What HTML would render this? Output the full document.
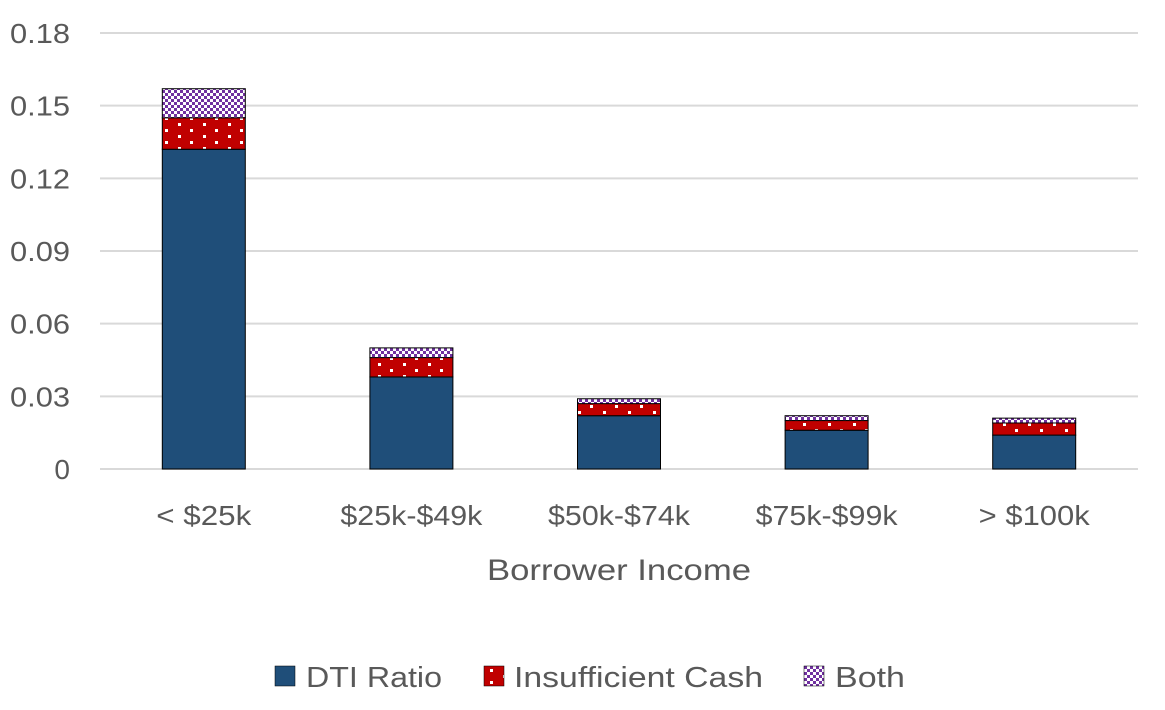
<!DOCTYPE html>
<html><head><meta charset="utf-8"><style>
body{margin:0;background:#fff;}
svg text{font-family:"Liberation Sans",sans-serif;fill:#595959;}
</style></head><body>
<svg id="chart" width="1165" height="705" viewBox="0 0 1165 705">
<defs>
<pattern id="dots" width="25" height="12" patternUnits="userSpaceOnUse">
<rect width="25" height="12" fill="#c00000"/>
<rect x="3" y="3" width="3" height="3" fill="#fff"/>
<rect x="15" y="9" width="3" height="3" fill="#fff"/>
</pattern>
<pattern id="check" width="6" height="6" patternUnits="userSpaceOnUse">
<rect width="6" height="6" fill="#fff"/>
<rect width="3" height="3" fill="#7030a0"/>
<rect x="3" y="3" width="3" height="3" fill="#7030a0"/>
</pattern>
</defs>
<g id="grid"></g><g id="bars"></g><g id="labels"></g>
<text x="487" y="580" font-size="30" textLength="264" lengthAdjust="spacingAndGlyphs">Borrower Income</text>
<g>
<rect x="275" y="666" width="20" height="20" fill="#1f4e79" stroke="#000" stroke-width="0.5"/>
<text x="306" y="687" font-size="29" textLength="136" lengthAdjust="spacingAndGlyphs">DTI Ratio</text>
<rect x="484" y="666" width="20" height="20" fill="url(#dots)" stroke="#000" stroke-width="0.5"/>
<text x="514" y="687" font-size="29" textLength="249" lengthAdjust="spacingAndGlyphs">Insufficient Cash</text>
<rect x="804" y="666" width="20" height="20" fill="url(#check)" stroke="#000" stroke-width="0.5"/>
<text x="835" y="687" font-size="29" textLength="70" lengthAdjust="spacingAndGlyphs">Both</text>
</g>
</svg>
<script>
const categories=["< $25k","$25k-$49k","$50k-$74k","$75k-$99k","> $100k"];
const dtiValues=[0.132,0.038,0.022,0.016,0.014];
const cashValues=[0.013,0.008,0.005,0.004,0.005];
const bothValues=[0.012,0.004,0.002,0.002,0.002];
const yTicks=[0,0.03,0.06,0.09,0.12,0.15,0.18];
const yTickLabels=["0","0.03","0.06","0.09","0.12","0.15","0.18"];
const NS="http://www.w3.org/2000/svg";
const x0=100,x1=1138,yBase=469,yTop=33,yMax=0.18;
const y=v=>yBase-(v/yMax)*(yBase-yTop);
const band=(x1-x0)/categories.length;
const xc=i=>x0+band*(i+0.5);
const bw=83;
function mk(t,a,p){const e=document.createElementNS(NS,t);for(const k in a)e.setAttribute(k,a[k]);p.appendChild(e);return e;}
const grid=document.getElementById('grid'),bars=document.getElementById('bars'),labels=document.getElementById('labels');
yTicks.forEach((t,i)=>{
 const l=mk('line',{x1:x0,x2:x1,y1:y(t),y2:y(t),stroke:'#d9d9d9','stroke-width':2},grid);
 
 
 const tx=mk('text',{x:70,y:y(t)+10,'font-size':28,'text-anchor':'end'},labels);
 tx.textContent=yTickLabels[i];
 if(yTickLabels[i].length>1){tx.setAttribute('textLength',60);tx.setAttribute('lengthAdjust','spacingAndGlyphs');}
 
 
});
const series=[[dtiValues,'#1f4e79','dti'],[cashValues,'url(#dots)','cash'],[bothValues,'url(#check)','both']];
categories.forEach((c,i)=>{
 let acc=0;
 series.forEach(([vals,fill,nm])=>{
  const b=mk('rect',{x:xc(i)-bw/2,y:y(acc+vals[i]),width:bw,height:y(acc)-y(acc+vals[i]),fill:fill,stroke:'#000','stroke-width':1},bars);
  
  
  acc+=vals[i];
 });
 const tx=mk('text',{x:xc(i),y:525,'font-size':28,'text-anchor':'middle',textLength:Math.round(c.length*15.8),lengthAdjust:'spacingAndGlyphs'},labels);
 tx.textContent=c;
 
 
});
</script>
</body></html>
